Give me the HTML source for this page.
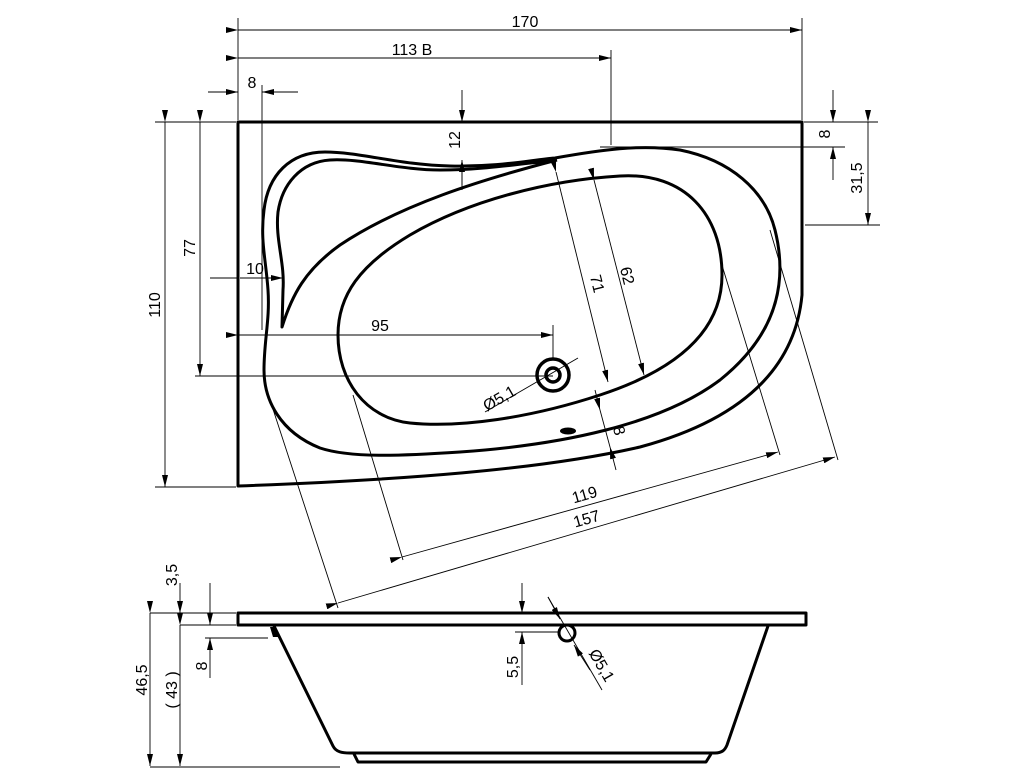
<!DOCTYPE html>
<html><head><meta charset="utf-8"><style>
html,body{margin:0;padding:0;background:#fff;}
svg{display:block;}
text{font-family:"Liberation Sans",sans-serif;font-size:16px;fill:#000;}
</style></head><body>
<svg width="1024" height="768" viewBox="0 0 1024 768" xmlns="http://www.w3.org/2000/svg">
<defs>
<marker id="a" viewBox="0 0 12 6" refX="12" refY="3" markerWidth="12" markerHeight="6" orient="auto" markerUnits="userSpaceOnUse"><path d="M0,0 L12,3 L0,6 Z" fill="#000"/></marker>
</defs>
<g fill="none" stroke="#000" stroke-width="3" stroke-linejoin="round">
<path d="M238,122 H802 V295 C795,370 740,420 640,447 C540,470 400,480 238,486 Z"/>
<path d="M555,158 C600,150 640,144 680,150 C730,160 765,190 775,230 C790,290 770,340 720,380 C660,425 560,445 460,452 C400,456 350,458 320,448 C280,432 264,400 264,370 C264,340 270,320 268,290 C266,260 260,240 264,210 C268,175 290,152 325,152 C360,152 400,165 450,166 C500,167 530,160 555,158"/>
<path d="M557,160 C520,164 480,170 440,170 C400,170 360,158 330,160 C300,162 282,185 278,212 C275,240 285,262 283,290 L282,327 C292,295 305,270 340,245 C400,205 480,180 557,160"/>
<path d="M620,176 C685,172 722,215 722,275 C722,335 670,372 600,395 C530,418 460,428 410,423 C365,418 338,380 338,335 C338,295 360,265 410,235 C470,200 550,180 620,176 Z"/>
<circle cx="553" cy="375" r="16" stroke-width="3.5"/>
<circle cx="553" cy="375" r="7" stroke-width="3.5"/>
<rect x="238" y="613" width="568" height="12"/>
<path d="M274,626 L333,746 C336,752 342,753 350,753 L715,753 C722,753 725,750 727,745 L768,626"/>
<path d="M354,754 L358,762 H706 L711,754"/>
<circle cx="567" cy="633" r="8"/>
</g>
<ellipse cx="568" cy="431" rx="8" ry="3.5" fill="#000"/>
<path d="M270,627 L276,627 L279,637 L273,637 Z" fill="#000"/>
<g fill="none" stroke="#000" stroke-width="0.9">
<path d="M238,18 V120 M802,18 V120 M611,50 V145 M262,85 V330"/>
<path d="M155,122 H236 M155,487 H236 M195,376 H553 M804,122 H878 M600,147 H845 M805,225 H880"/>
<path d="M553,325 V360 M462,165 V190"/>
<path d="M238,30 H802" marker-start="url(#a)" marker-end="url(#a)"/>
<path d="M238,58 H611" marker-start="url(#a)" marker-end="url(#a)"/>
<path d="M208,92 H238" marker-end="url(#a)"/>
<path d="M298,92 H262" marker-end="url(#a)"/>
<path d="M462,90 V122" marker-end="url(#a)"/>
<path d="M462,185 V160" marker-end="url(#a)"/>
<path d="M833,90 V122" marker-end="url(#a)"/>
<path d="M833,180 V147" marker-end="url(#a)"/>
<path d="M868,122 V225" marker-start="url(#a)" marker-end="url(#a)"/>
<path d="M165,122 V487" marker-start="url(#a)" marker-end="url(#a)"/>
<path d="M200,122 V376" marker-start="url(#a)" marker-end="url(#a)"/>
<path d="M210,278 H238"/>
<path d="M240,278 H283" marker-end="url(#a)"/>
<path d="M238,335 H553" marker-start="url(#a)" marker-end="url(#a)"/>
<path d="M556,172 L608,382" marker-start="url(#a)" marker-end="url(#a)"/>
<path d="M594,180 L644,375" marker-start="url(#a)" marker-end="url(#a)"/>
<path d="M595,390 L600,410" marker-end="url(#a)"/>
<path d="M616,470 L610,447" marker-end="url(#a)"/>
<path d="M600,410 L610,447"/>
<path d="M485,412 L578,358"/>
<path d="M353,395 L403,560 M721,262 L780,455 M770,230 L838,460 M270,400 L338,608"/>
<path d="M402,557 L778,452" marker-start="url(#a)" marker-end="url(#a)"/>
<path d="M338,603 L835,457" marker-start="url(#a)" marker-end="url(#a)"/>
<path d="M150,613 H236 M180,625 H236 M205,638 H268 M515,632 H560"/>
<path d="M150,613 V766" marker-start="url(#a)" marker-end="url(#a)"/>
<path d="M180,583 V613" marker-end="url(#a)"/>
<path d="M180,625 V766" marker-start="url(#a)" marker-end="url(#a)"/>
<path d="M210,583 V625" marker-end="url(#a)"/>
<path d="M210,678 V638" marker-end="url(#a)"/>
<path d="M522,583 V613" marker-end="url(#a)"/>
<path d="M522,685 V632" marker-end="url(#a)"/>
<path d="M548,597 L602,690"/>
<path d="M548,597 L560,619" marker-end="url(#a)"/>
<path d="M590,670 L574,645" marker-end="url(#a)"/>
<path d="M150,767 H340"/>
</g>
<text x="525" y="27" text-anchor="middle">170</text>
<text x="412" y="55" text-anchor="middle">113 B</text>
<text x="252" y="88" text-anchor="middle">8</text>
<text x="255" y="274" text-anchor="middle">10</text>
<text x="380" y="331" text-anchor="middle">95</text>
<text transform="translate(460,140) rotate(-90)" text-anchor="middle">12</text>
<text transform="translate(830,134) rotate(-90)" text-anchor="middle">8</text>
<text transform="translate(862,178) rotate(-90)" text-anchor="middle">31,5</text>
<text transform="translate(160,305) rotate(-90)" text-anchor="middle">110</text>
<text transform="translate(195,248) rotate(-90)" text-anchor="middle">77</text>
<text transform="translate(592,285) rotate(76)" text-anchor="middle">71</text>
<text transform="translate(622,277) rotate(76)" text-anchor="middle">62</text>
<text transform="translate(614,432) rotate(76)" text-anchor="middle">8</text>
<text transform="translate(502,403) rotate(-30)" text-anchor="middle">Ø5,1</text>
<text transform="translate(586,500) rotate(-16)" text-anchor="middle">119</text>
<text transform="translate(588,524) rotate(-16)" text-anchor="middle">157</text>
<text transform="translate(177,575) rotate(-90)" text-anchor="middle">3,5</text>
<text transform="translate(147,680) rotate(-90)" text-anchor="middle">46,5</text>
<text transform="translate(177,690) rotate(-90)" text-anchor="middle">( 43 )</text>
<text transform="translate(207,666) rotate(-90)" text-anchor="middle">8</text>
<text transform="translate(518,667) rotate(-90)" text-anchor="middle">5,5</text>
<text transform="translate(597,668) rotate(60)" text-anchor="middle">Ø5,1</text>
</svg>
</body></html>
